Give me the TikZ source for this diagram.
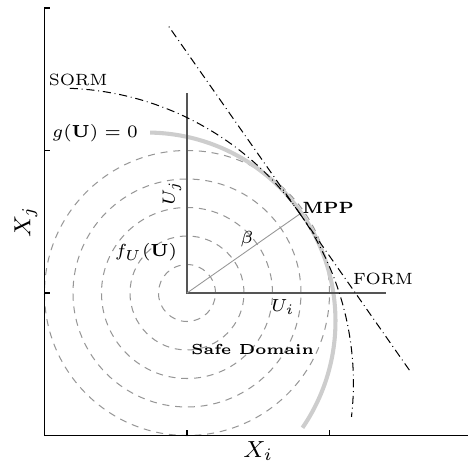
\documentclass[tikz,border=0pt]{standalone}
\usepackage{tikz}
\usepackage{xcolor}
\definecolor{limitgray}{RGB}{205,205,205}
\definecolor{contourgray}{RGB}{150,150,150}
\definecolor{axisgray}{RGB}{85,85,85}

\begin{document}
\begin{tikzpicture}[x=0.344cm, y=0.344cm,
    contour/.style={contourgray, line width=0.35pt, dash pattern=on 2.4pt off 2pt},
    approx/.style={black, line width=0.35pt, dash pattern=on 2.8pt off 1.3pt on 0.3pt off 1.3pt},
    smalltxt/.style={inner sep=0pt, font=\fontsize{5.6}{6.5}\selectfont},
    mathtxt/.style={inner sep=0pt, font=\fontsize{6}{7}\selectfont}]
    \useasboundingbox (-6.561,-5.930) rectangle (9.860,10.281);

    % Density contours
    \draw[contour] (0,0) circle (1);
    \draw[contour] (0,0) circle (2);
    \draw[contour] (0,0) circle (3);
    \draw[contour] (0,0) circle (4);
    \draw[contour] (0,0) circle (5);

    % Limit state
    \draw[limitgray, line width=1.4pt] (-1.41,-0.99) ++(89:6.62) arc (89:-34.4:6.62);

    % Outer axes
    \draw[line width=0.5pt] (-4.82,10) -- (-5,10) -- (-5,-5) -- (10,-5);
    \draw[line width=0.5pt] (-5,5) -- (-4.82,5);
    \draw[line width=0.5pt] (-5,0) -- (-4.82,0);
    \draw[line width=0.5pt] (0,-5) -- (0,-4.82);
    \draw[line width=0.5pt] (5,-5) -- (5,-4.82);
    \node[font=\footnotesize, rotate=90, inner sep=0pt] (xj) at (-5.65,2.5) {$X_j$};
    \node[font=\footnotesize, inner sep=0pt] (xi) at (2.5,-5.55) {$X_i$};

    % Standard normal axes
    \coordinate (O) at (0,0);
    \coordinate (mpp) at (35:4.84);
    \draw[axisgray, line width=0.4pt] (0,7) -- (O) -- (7,0);
    \draw[contourgray, line width=0.3pt] (O) -- (mpp);
    \node[mathtxt, rotate=90] (uj) at (-0.53,3.51) {$U_j$};
    \node[mathtxt] (ui) at (3.37,-0.49) {$U_i$};
    \node[mathtxt] (beta) at (2.1,1.9) {$\beta$};

    % FORM and SORM
    \draw[approx] (mpp) -- ++(125:8.04);
    \draw[approx] (mpp) -- ++(-55:6.75);
    \draw[approx] (-4.51,-3.16) ++(87.8:10.35) arc (87.8:-6.6:10.35);

    % Labels
    \node[smalltxt] (sorm) at (-3.82,7.47) {SORM};
    \node[smalltxt] (form) at (6.88,0.49) {FORM};
    \node[smalltxt] (mpplbl) at (4.95,2.98) {\textbf{MPP}};
    \node[mathtxt] (glbl) at (-3.23,5.61) {$g(\mathbf{U})=0$};
    \node[mathtxt] (flbl) at (-1.44,1.44) {$f_U(\mathbf{U})$};
    \node[inner sep=0pt, font=\tiny] (safe) at (2.3,-1.98) {\textbf{Safe Domain}};
\end{tikzpicture}
\end{document}
